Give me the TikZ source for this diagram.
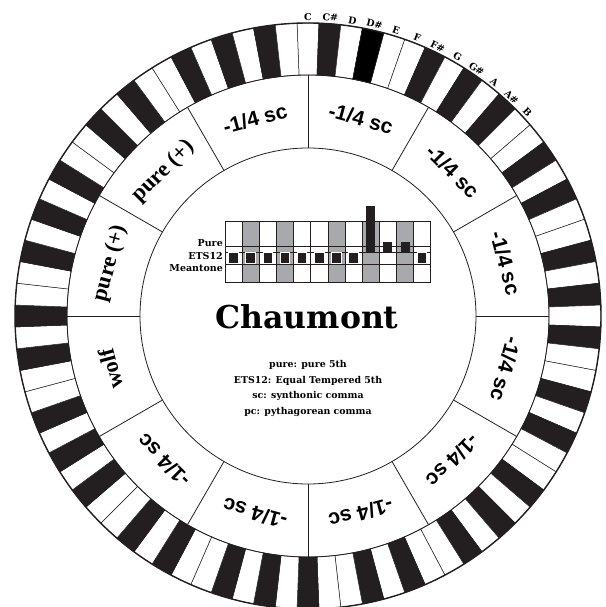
\documentclass[tikz,border=0pt]{standalone}
\usepackage{fontspec}
\setmainfont{DejaVu Serif}
\setsansfont{Liberation Sans}
\newfontfamily\libserif{Liberation Serif}
\usetikzlibrary{positioning}
\definecolor{noir}{HTML}{231F20}
\definecolor{grischarte}{HTML}{A7A9AC}
\newcommand{\quartsc}{-1/4 sc}
\newcommand{\pas}{4.2857143}
\tikzset{
  touche/.style={draw=noir,line width=0.5pt},
  cercle/.style={draw=noir,line width=0.8pt},
  secteur/.style={font=\sffamily\bfseries\fontsize{21}{21}\selectfont,inner sep=0pt},
  secteurserif/.style={font=\libserif\bfseries\fontsize{22.5}{22.5}\selectfont,inner sep=0pt},
  note/.style={font=\bfseries\fontsize{9.5}{9.5}\selectfont,inner sep=0pt,anchor=south},
  rangee/.style={font=\bfseries\fontsize{9.5}{9.5}\selectfont,inner sep=0pt,anchor=base east},
  legende/.style={font=\bfseries\fontsize{9.4}{9.4}\selectfont,inner sep=0pt,anchor=base},
  grille/.style={draw=noir,line width=0.7pt},
}

\begin{document}
\begin{tikzpicture}[x=1pt,y=1pt]
  \useasboundingbox (-308,-291) rectangle (297,316);
  \clip (-308,-291) rectangle (297,316);
  % clavier circulaire, 7 octaves
  \foreach \o in {0,...,6}{
    \foreach \n/\teinte in {0/white,1/noir,2/white,3/noir,4/white,5/white,6/noir,7/white,8/noir,9/white,10/noir,11/white}{
      \pgfmathsetmacro\debut{90-(12*\o+\n-0.5)*\pas}
      \pgfmathsetmacro\fin{\debut-\pas}
      \filldraw[touche,fill=\teinte] (\debut:241) arc[start angle=\debut,end angle=\fin,radius=241]
        -- (\fin:293) arc[start angle=\fin,end angle=\debut,radius=293] -- cycle;
    }
  }
  % D# du haut
  \pgfmathsetmacro\debut{90-2.5*\pas}
  \pgfmathsetmacro\fin{\debut-\pas}
  \filldraw[touche,fill=black] (\debut:241) arc[start angle=\debut,end angle=\fin,radius=241]
    -- (\fin:293) arc[start angle=\fin,end angle=\debut,radius=293] -- cycle;
  \draw[noir,line width=1.4pt] (0,0) circle[radius=293];
  \draw[cercle] (0,0) circle[radius=241];
  \draw[cercle] (0,0) circle[radius=168];
  \foreach \a in {0,30,...,330}
    \draw[cercle] (\a:168) -- (\a:241);
  % noms des notes
  \foreach \n/\nom in {0/C,1/C\#,2/D,3/D\#,4/E,5/F,6/F\#,7/G,8/G\#,9/A,10/A\#,11/B}{
    \pgfmathsetmacro\a{90-\n*\pas}
    \node[note,rotate=\a-90] (note\n) at (\a:295.5) {\nom};
  }
  % quintes
  \foreach \a [count=\k] in {105,75,...,-135}
    \node[secteur,rotate=\a-90] (sc\k) at (\a:204.5) {\quartsc};
  \node[secteurserif,rotate=-255] (loup) at (-165:204.5) {wolf};
  \node[secteurserif,rotate=75] (pur1) at (165:204.5) {pure (+)};
  \node[secteurserif,rotate=45] (pur2) at (135:204.5) {pure (+)};
  % petit tableau
  \foreach \c in {1,3,6,8,10}
    \fill[grischarte] ({-83+\c*17.15},33.3) rectangle +(17.15,61);
  \draw[grille] (-83,33.3) rectangle (122.8,94.3);
  \foreach \c in {1,...,11}
    \draw[grille] ({-83+\c*17.15},33.3) -- +(0,61);
  \foreach \y in {52,63.3,70}
    \draw[grille] (-83,\y) -- (122.8,\y);
  \foreach \c in {0,1,2,3,4,5,6,7,11}
    \filldraw[fill=noir,draw=white,line width=1pt] ({-83+(\c+0.5)*17.15-4.75},52) rectangle +(9.5,11.3);
  \fill[noir] (58.3,63.3) rectangle +(9,47);
  \fill[noir] (75.4,63.3) rectangle +(9,11);
  \fill[noir] (92.6,63.3) rectangle +(9,11);
  \node[rangee] (pure) at (-85,69) {Pure};
  \node[rangee] (ets) at (-85,56.5) {ETS12};
  \node[rangee] (meantone) at (-85,44) {Meantone};
  % titre et legende
  \node[font=\bfseries\fontsize{31.5}{31.5}\selectfont,inner sep=0pt,anchor=base] (titre) at (-1,-13) {Chaumont};
  \node[legende] (leg1) at (0,-51.5) {pure: pure 5th};
  \node[legende] (leg2) at (0,-67) {ETS12: Equal Tempered 5th};
  \node[legende] (leg3) at (0,-82.5) {sc: synthonic comma};
  \node[legende] (leg4) at (0,-98) {pc: pythagorean comma};
\end{tikzpicture}
\end{document}
